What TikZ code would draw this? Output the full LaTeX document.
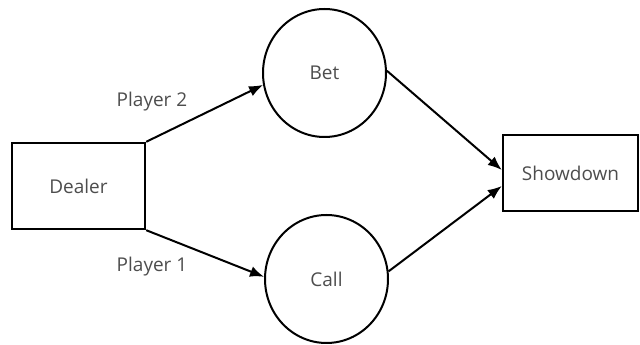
\documentclass[tikz,border=0pt]{standalone}
\usepackage{fontspec}
\setmainfont{Open Sans}
\usetikzlibrary{arrows.meta,shapes.geometric}

\definecolor{labelgray}{HTML}{4D4D4D}

\begin{document}
\begin{tikzpicture}[x=1pt,y=1pt,
  every node/.style={font=\fontsize{19}{22}\selectfont, text=labelgray},
  box/.style={draw=black, line width=2.4pt, rectangle, inner sep=0pt},
  state/.style={draw=black, line width=2pt, ellipse, minimum width=123pt, minimum height=128pt, inner sep=0pt},
  move/.style={line width=2pt, -{Latex[length=14pt,width=11pt]}}]

\useasboundingbox (0,0) rectangle (640,345);

\node [box, minimum width=133pt, minimum height=86pt] (dealer) at (78.5,159) {Dealer};
\node [state] (bet) at (324.5,272) {Bet};
\node [state] (call) at (326.5,66) {Call};
\node [box, minimum width=135pt, minimum height=76pt] (showdown) at (570.5,172) {Showdown};

\draw [move] (dealer.north east) -- (bet.191);
\draw [move] (dealer.south east) -- (call.178);
\draw [move] (bet.2) -- ([yshift=3pt]showdown.west);
\draw [move] (call.7) -- ([yshift=-13pt]showdown.west);

\node (p2) at (152,243) {Player 2};
\node (p1) at (152,78) {Player 1};

\end{tikzpicture}
\end{document}
